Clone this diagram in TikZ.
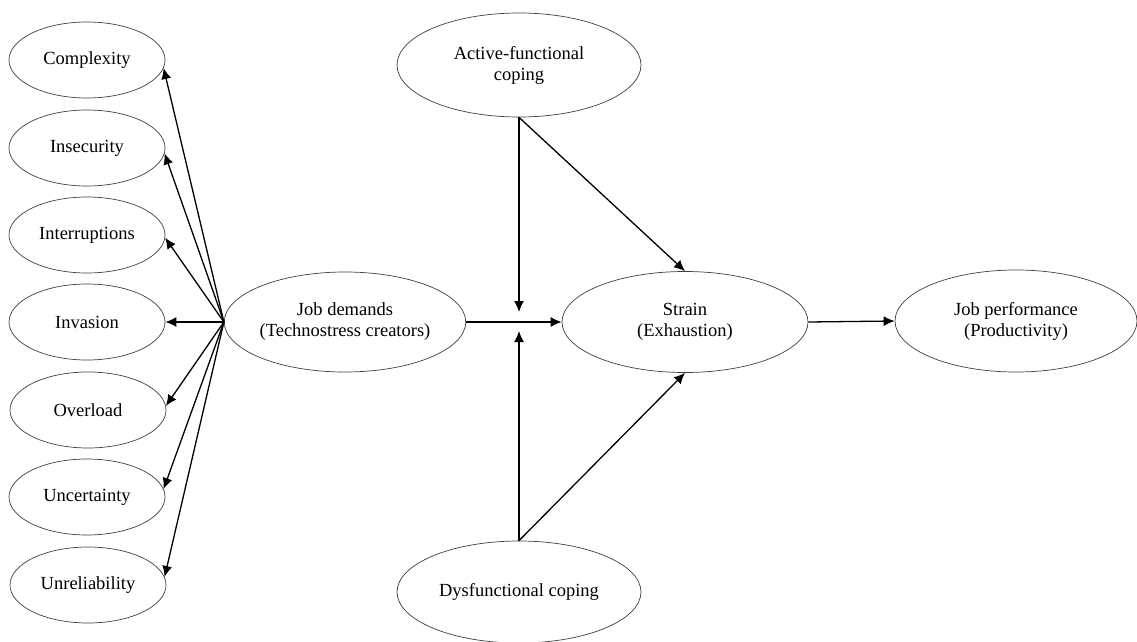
\documentclass[tikz,border=0pt]{standalone}
\usepackage{fontspec}
\setmainfont{Liberation Serif}
\usetikzlibrary{shapes.geometric,arrows.meta}
\tikzset{
  oval/.style={ellipse, draw=black!75, line width=0.7pt, inner sep=0pt, align=center,
    font=\fontsize{18.5}{21}\selectfont},
  smalloval/.style={oval, minimum width=156pt, minimum height=76pt},
  bigoval/.style={oval, minimum width=242pt, minimum height=102pt},
  arr/.style={line width=1.3pt, -{Latex[length=11pt,width=10pt]}}
}
\begin{document}
\begin{tikzpicture}[x=1pt,y=-1pt]
\useasboundingbox[fill=white] (0,0) rectangle (1137,642);
% left constructs
\node[smalloval] (c1) at (87,60) {Complexity};
\node[smalloval] (c2) at (87,148) {Insecurity};
\node[smalloval] (c3) at (87,235) {Interruptions};
\node[smalloval] (c4) at (87,322) {Invasion};
\node[smalloval] (c5) at (88,410) {Overload};
\node[smalloval] (c6) at (87,497) {Uncertainty};
\node[smalloval] (c7) at (88,585) {Unreliability};
% main constructs
\node[oval, minimum width=236pt, minimum height=100pt] (jd) at (345,322) {Job demands\\(Technostress creators)};
\node[oval, minimum width=246pt, minimum height=101pt] (st) at (685,322) {Strain\\(Exhaustion)};
\node[bigoval] (jp) at (1016,321) {Job performance\\(Productivity)};
\node[oval, minimum width=244pt, minimum height=104pt] (af) at (519,65) {Active-functional\\coping};
\node[oval, minimum width=244pt, minimum height=102pt] (df) at (519,592) {Dysfunctional coping};
% moderation points
\coordinate (mt) at (519,312);
\coordinate (mb) at (519,331);
% arrows to dimensions
\draw[arr] (jd.west) -- (c1.-6);
\draw[arr] (jd.west) -- (c2.-4);
\draw[arr] (jd.west) -- (c3.-2);
\draw[arr] (jd.west) -- (c4.east);
\draw[arr] (jd.west) -- (c5.3);
\draw[arr] (jd.west) -- (c6.6);
\draw[arr] (jd.west) -- (c7.6);
% main paths
\draw[arr] (jd.east) -- (st.west);
\draw[arr] (st.east) -- (jp.west);
\draw[arr] (af.south) -- (mt);
\draw[arr] (df.north) -- (mb);
\draw[arr] (af.south) -- (st.north);
\draw[arr] (df.north) -- (st.south);
\end{tikzpicture}
\end{document}
